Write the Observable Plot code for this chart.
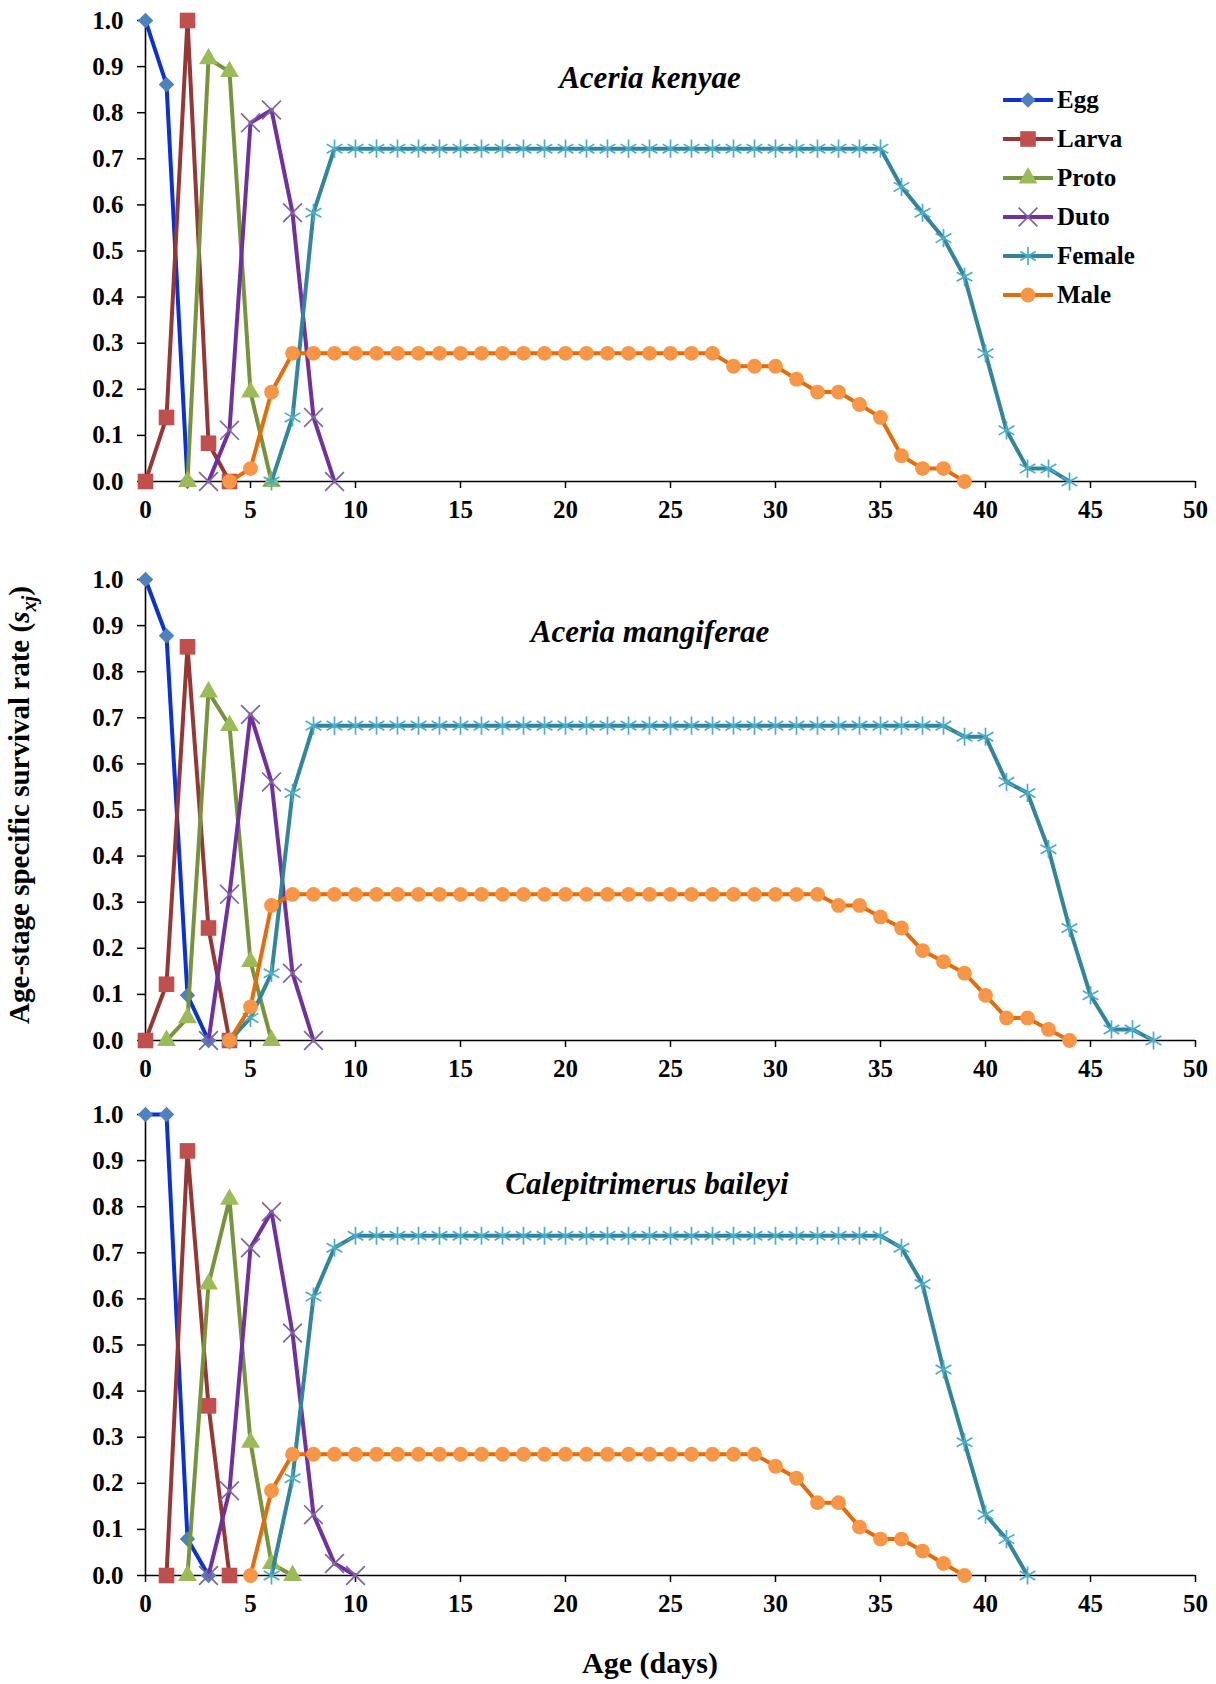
<!DOCTYPE html>
<html>
<head>
<meta charset="utf-8">
<script src="https://cdn.jsdelivr.net/npm/d3@7"></script>
<script src="https://cdn.jsdelivr.net/npm/@observablehq/plot@0.6"></script>
<style>
  html, body { margin: 0; padding: 0; background: #fff; }
  #page { position: relative; width: 1216px; height: 1684px; background: #fff; font-family: "Liberation Serif", "Times New Roman", serif; color: #000; }
  .panel { position: absolute; left: 0; }
  .title { position: absolute; transform: translate(-50%, -50%); font-weight: bold; font-style: italic; font-size: 31px; white-space: nowrap; }
  .ytitle { position: absolute; left: 22px; top: 805px; transform: translate(-50%, -50%) rotate(-90deg); font-weight: bold; font-size: 29px; white-space: nowrap; }
  .xtitle { position: absolute; left: 650px; top: 1663px; transform: translate(-50%, -50%); font-weight: bold; font-size: 30px; white-space: nowrap; }
  .legend { position: absolute; left: 1003px; top: 80px; }
  .legend .row { display: flex; align-items: center; height: 39px; }
  .legend .lab { font-weight: bold; font-size: 25px; margin-left: 4px; }
</style>
</head>
<body>
<div id="page"></div>
<script>
// ---- data ----
const stages = ["Egg", "Larva", "Proto", "Duto", "Female", "Male"];
const lineColors = ["#0a32d2", "#953735", "#77933c", "#7030a0", "#31859c", "#e46c0a"];
const markerColors = ["#4f81bd", "#c0504d", "#9bbb59", "#8064a2", "#4bacc6", "#f79646"];
const xTicks = [0, 5, 10, 15, 20, 25, 30, 35, 40, 45, 50];
const yTicks = [0, 0.1, 0.2, 0.3, 0.4, 0.5, 0.6, 0.7, 0.8, 0.9, 1.0];
const speciesNames = ["Aceria kenyae", "Aceria mangiferae", "Calepitrimerus baileyi"];

// Aceria kenyae (first day of each stage series, then values by day)
const kenyaeStart = [0, 0, 2, 3, 6, 4];
const kenyaeEgg = [1.0, 0.861, 0];
const kenyaeLarva = [0, 0.139, 1.0, 0.083, 0];
const kenyaeProto = [0, 0.917, 0.889, 0.194, 0];
const kenyaeDuto = [0, 0.111, 0.778, 0.806, 0.583, 0.139, 0];
const kenyaeFemale = [0, 0.139, 0.583,
  0.722, 0.722, 0.722, 0.722, 0.722, 0.722, 0.722, 0.722, 0.722, 0.722,
  0.722, 0.722, 0.722, 0.722, 0.722, 0.722, 0.722, 0.722, 0.722, 0.722,
  0.722, 0.722, 0.722, 0.722, 0.722, 0.722, 0.722,
  0.639, 0.583, 0.528, 0.444, 0.278, 0.111, 0.028, 0.028, 0];
const kenyaeMale = [0, 0.028, 0.194,
  0.278, 0.278, 0.278, 0.278, 0.278, 0.278, 0.278, 0.278, 0.278, 0.278,
  0.278, 0.278, 0.278, 0.278, 0.278, 0.278, 0.278, 0.278, 0.278, 0.278, 0.278,
  0.25, 0.25, 0.25, 0.222, 0.194, 0.194, 0.167, 0.139, 0.056, 0.028, 0.028, 0];

// Aceria mangiferae
const mangiferaeStart = [0, 0, 1, 3, 4, 4];
const mangiferaeEgg = [1.0, 0.878, 0.098, 0];
const mangiferaeLarva = [0, 0.122, 0.854, 0.244, 0];
const mangiferaeProto = [0, 0.049, 0.756, 0.683, 0.171, 0];
const mangiferaeDuto = [0, 0.317, 0.707, 0.561, 0.146, 0];
const mangiferaeFemale = [0, 0.049, 0.146, 0.537,
  0.683, 0.683, 0.683, 0.683, 0.683, 0.683, 0.683, 0.683, 0.683, 0.683,
  0.683, 0.683, 0.683, 0.683, 0.683, 0.683, 0.683, 0.683, 0.683, 0.683,
  0.683, 0.683, 0.683, 0.683, 0.683, 0.683, 0.683, 0.683, 0.683, 0.683, 0.683,
  0.659, 0.659, 0.561, 0.537, 0.415, 0.244, 0.098, 0.024, 0.024, 0];
const mangiferaeMale = [0, 0.073, 0.293,
  0.317, 0.317, 0.317, 0.317, 0.317, 0.317, 0.317, 0.317, 0.317, 0.317,
  0.317, 0.317, 0.317, 0.317, 0.317, 0.317, 0.317, 0.317, 0.317, 0.317,
  0.317, 0.317, 0.317, 0.317, 0.317, 0.317,
  0.293, 0.293, 0.268, 0.244, 0.195, 0.171, 0.146, 0.098, 0.049, 0.049, 0.024, 0];

// Calepitrimerus baileyi
const baileyiStart = [0, 1, 2, 3, 6, 5];
const baileyiEgg = [1.0, 1.0, 0.079, 0];
const baileyiLarva = [0, 0.921, 0.368, 0];
const baileyiProto = [0, 0.632, 0.816, 0.289, 0.026, 0];
const baileyiDuto = [0, 0.184, 0.711, 0.789, 0.526, 0.132, 0.026, 0];
const baileyiFemale = [0, 0.211, 0.605, 0.711,
  0.737, 0.737, 0.737, 0.737, 0.737, 0.737, 0.737, 0.737, 0.737, 0.737,
  0.737, 0.737, 0.737, 0.737, 0.737, 0.737, 0.737, 0.737, 0.737, 0.737,
  0.737, 0.737, 0.737, 0.737, 0.737, 0.737,
  0.711, 0.632, 0.447, 0.289, 0.132, 0.079, 0];
const baileyiMale = [0, 0.184,
  0.263, 0.263, 0.263, 0.263, 0.263, 0.263, 0.263, 0.263, 0.263, 0.263,
  0.263, 0.263, 0.263, 0.263, 0.263, 0.263, 0.263, 0.263, 0.263, 0.263,
  0.263, 0.263, 0.263,
  0.237, 0.211, 0.158, 0.158, 0.105, 0.079, 0.079, 0.053, 0.026, 0];

// ---- build ----
const panelsData = [
  {name: speciesNames[0], start: kenyaeStart, series: [kenyaeEgg, kenyaeLarva, kenyaeProto, kenyaeDuto, kenyaeFemale, kenyaeMale]},
  {name: speciesNames[1], start: mangiferaeStart, series: [mangiferaeEgg, mangiferaeLarva, mangiferaeProto, mangiferaeDuto, mangiferaeFemale, mangiferaeMale]},
  {name: speciesNames[2], start: baileyiStart, series: [baileyiEgg, baileyiLarva, baileyiProto, baileyiDuto, baileyiFemale, baileyiMale]}
];

const symbols = ["diamond2", "square", "triangle", "times", "asterisk", "circle"];
const radii = [7, 8.8, 7, 8.6, 8.6, 7.4];
const hollow = [false, false, false, true, true, false];

const panelTops = [0, 559, 1094];
const titleCenters = [[650, 78], [650, 632], [647, 1184]];

const page = document.getElementById("page");

panelsData.forEach((p, pi) => {
  const marks = [
    Plot.axisY({ticks: yTicks, tickSize: 8, tickPadding: 14, tickFormat: d3.format(".1f"), label: null, strokeWidth: 1.5, fontSize: 25, fontWeight: "bold"}),
    Plot.axisX({ticks: xTicks, tickSize: 7, tickPadding: 12, label: null, strokeWidth: 1.5, fontSize: 25, fontWeight: "bold"}),
    Plot.ruleX([0], {stroke: "black", strokeWidth: 1.6}),
    Plot.ruleY([0], {stroke: "black", strokeWidth: 1.6})
  ];
  p.series.forEach((vals, si) => {
    const data = vals.map((v, i) => ({age: p.start[si] + i, s: v}));
    marks.push(Plot.line(data, {x: "age", y: "s", stroke: lineColors[si], strokeWidth: 4, strokeLinejoin: "round"}));
    if (hollow[si]) {
      marks.push(Plot.dot(data, {x: "age", y: "s", symbol: symbols[si], r: radii[si], stroke: markerColors[si], strokeWidth: 1.7, fill: "none"}));
    } else {
      marks.push(Plot.dot(data, {x: "age", y: "s", symbol: symbols[si], r: radii[si], fill: markerColors[si], stroke: "none"}));
    }
  });
  const chart = Plot.plot({
    width: 1216, height: 526,
    marginTop: 20, marginBottom: 45, marginLeft: 145, marginRight: 21,
    x: {domain: [0, 50]},
    y: {domain: [0, 1]},
    style: {fontFamily: "'Liberation Serif', 'Times New Roman', serif", color: "#000", background: "transparent", overflow: "visible"},
    marks
  });
  const wrap = document.createElement("div");
  wrap.className = "panel";
  wrap.style.top = panelTops[pi] + "px";
  wrap.appendChild(chart);
  page.appendChild(wrap);

  const t = document.createElement("div");
  t.className = "title";
  t.textContent = p.name;
  t.style.left = titleCenters[pi][0] + "px";
  t.style.top = titleCenters[pi][1] + "px";
  page.appendChild(t);
});

// legend
const legend = document.createElement("div");
legend.className = "legend";
const symMap = {diamond2: d3.symbolDiamond2, square: d3.symbolSquare, triangle: d3.symbolTriangle, times: d3.symbolTimes, asterisk: d3.symbolAsterisk, circle: d3.symbolCircle};
stages.forEach((st, si) => {
  const row = document.createElement("div");
  row.className = "row";
  const svg = d3.create("svg").attr("width", 50).attr("height", 22);
  svg.append("line").attr("x1", 1).attr("x2", 49).attr("y1", 11).attr("y2", 11)
    .attr("stroke", lineColors[si]).attr("stroke-width", 4).attr("stroke-linecap", "round");
  const size = Math.PI * radii[si] * radii[si];
  const path = svg.append("path").attr("transform", "translate(25,11)")
    .attr("d", d3.symbol(symMap[symbols[si]], size)());
  if (hollow[si]) path.attr("fill", "none").attr("stroke", markerColors[si]).attr("stroke-width", 1.7);
  else path.attr("fill", markerColors[si]);
  row.appendChild(svg.node());
  const lab = document.createElement("span");
  lab.className = "lab";
  lab.textContent = st;
  row.appendChild(lab);
  legend.appendChild(row);
});
page.appendChild(legend);

// axis titles
const yt = document.createElement("div");
yt.className = "ytitle";
yt.innerHTML = "Age-stage specific survival rate (<i>s</i><sub style='font-size:70%'><i>xj</i></sub>)";
page.appendChild(yt);
const xt = document.createElement("div");
xt.className = "xtitle";
xt.textContent = "Age (days)";
page.appendChild(xt);
</script>
</body>
</html>
